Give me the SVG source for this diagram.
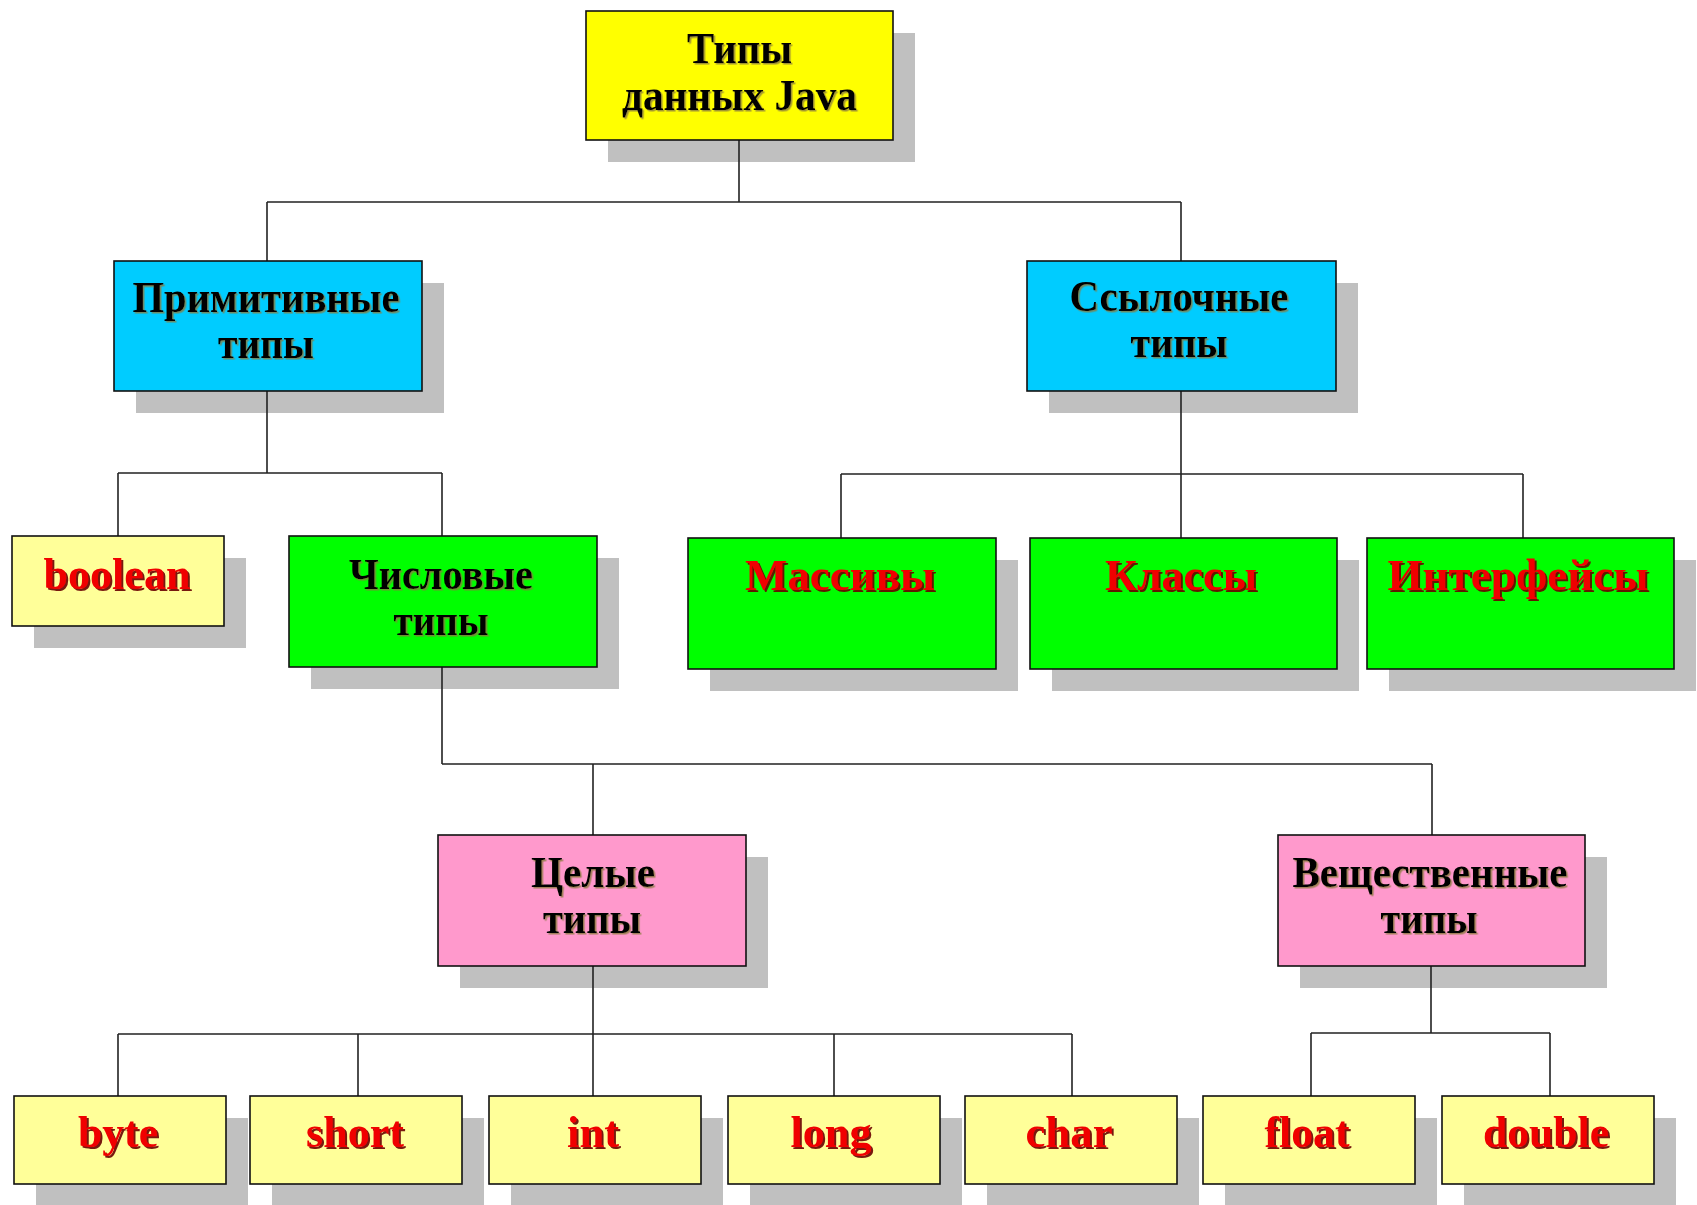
<svg xmlns="http://www.w3.org/2000/svg" width="1697" height="1205" viewBox="0 0 1697 1205">
<defs>
<style>
.box{stroke:#111;stroke-width:1.6}
.sh{fill:#c0c0c0}
.c{fill:none;stroke:#222;stroke-width:1.6}
.t{font-family:"Liberation Serif","Times New Roman",serif;font-weight:bold;font-size:44px;text-anchor:middle}
.k{fill:#000;filter:url(#ks)}
.r{fill:#f00000;filter:url(#rs)}
.y{fill:#ffff00}.b{fill:#00ccff}.g{fill:#00ff00}.p{fill:#ff99cc}.ly{fill:#ffff99}
</style>
<filter id="rs" x="-10%" y="-20%" width="130%" height="150%">
<feDropShadow dx="2" dy="2" stdDeviation="0.6" flood-color="#6a0000" flood-opacity="0.9"/>
</filter>
<filter id="ks" x="-10%" y="-20%" width="130%" height="150%">
<feDropShadow dx="1.5" dy="1.5" stdDeviation="0.6" flood-color="#8a7a40" flood-opacity="0.8"/>
</filter>
</defs>
<rect width="1697" height="1205" fill="#fff"/>
<g id="shadows">
<rect class="sh" x="608" y="33" width="307" height="129"/>
<rect class="sh" x="136" y="283" width="308" height="130"/>
<rect class="sh" x="1049" y="283" width="309" height="130"/>
<rect class="sh" x="34" y="558" width="212" height="90"/>
<rect class="sh" x="311" y="558" width="308" height="131"/>
<rect class="sh" x="710" y="560" width="308" height="131"/>
<rect class="sh" x="1052" y="560" width="307" height="131"/>
<rect class="sh" x="1389" y="560" width="307" height="131"/>
<rect class="sh" x="460" y="857" width="308" height="131"/>
<rect class="sh" x="1300" y="857" width="307" height="131"/>
<rect class="sh" x="36" y="1118" width="212" height="88"/>
<rect class="sh" x="272" y="1118" width="212" height="88"/>
<rect class="sh" x="511" y="1118" width="212" height="88"/>
<rect class="sh" x="750" y="1118" width="212" height="88"/>
<rect class="sh" x="987" y="1118" width="212" height="88"/>
<rect class="sh" x="1225" y="1118" width="212" height="88"/>
<rect class="sh" x="1464" y="1118" width="212" height="88"/>
</g>
<g id="connectors">
<path class="c" d="M739 140V202M267 202H1181M267 202V261M1181 202V261"/>
<path class="c" d="M267 391V473M118 473H442M118 473V536M442 473V536"/>
<path class="c" d="M1181 391V538M841 474H1523M841 474V538M1523 474V538"/>
<path class="c" d="M442 667V764M442 764H1432M593 764V835M1432 764V835"/>
<path class="c" d="M593 966V1096M118 1034H1072M118 1034V1096M358 1034V1096M834 1034V1096M1072 1034V1096"/>
<path class="c" d="M1431 966V1033M1311 1033H1550M1311 1033V1096M1550 1033V1096"/>
</g>
<g id="n-root"><rect class="box y" x="586" y="11" width="307" height="129"/>
<text class="t k" x="739.5" y="63" textLength="105" lengthAdjust="spacingAndGlyphs">Типы</text>
<text class="t k" x="739.5" y="110" textLength="235" lengthAdjust="spacingAndGlyphs">данных Java</text></g>
<g id="n-prim"><rect class="box b" x="114" y="261" width="308" height="130"/>
<text class="t k" x="266" y="312" textLength="267" lengthAdjust="spacingAndGlyphs">Примитивные</text>
<text class="t k" x="266" y="358" textLength="96" lengthAdjust="spacingAndGlyphs">типы</text></g>
<g id="n-ref"><rect class="box b" x="1027" y="261" width="309" height="130"/>
<text class="t k" x="1179" y="311" textLength="219" lengthAdjust="spacingAndGlyphs">Ссылочные</text>
<text class="t k" x="1179" y="357" textLength="97" lengthAdjust="spacingAndGlyphs">типы</text></g>
<g id="n-boolean"><rect class="box ly" x="12" y="536" width="212" height="90"/>
<text class="t r" x="117" y="589" textLength="147" lengthAdjust="spacingAndGlyphs">boolean</text></g>
<g id="n-num"><rect class="box g" x="289" y="536" width="308" height="131"/>
<text class="t k" x="441" y="589" textLength="184" lengthAdjust="spacingAndGlyphs">Числовые</text>
<text class="t k" x="441" y="635" textLength="95" lengthAdjust="spacingAndGlyphs">типы</text></g>
<g id="n-arr"><rect class="box g" x="688" y="538" width="308" height="131"/>
<text class="t r" x="840" y="590" textLength="190" lengthAdjust="spacingAndGlyphs">Массивы</text></g>
<g id="n-cls"><rect class="box g" x="1030" y="538" width="307" height="131"/>
<text class="t r" x="1181" y="590" textLength="152" lengthAdjust="spacingAndGlyphs">Классы</text></g>
<g id="n-int"><rect class="box g" x="1367" y="538" width="307" height="131"/>
<text class="t r" x="1518" y="590" textLength="261" lengthAdjust="spacingAndGlyphs">Интерфейсы</text></g>
<g id="n-whole"><rect class="box p" x="438" y="835" width="308" height="131"/>
<text class="t k" x="593" y="887" textLength="124" lengthAdjust="spacingAndGlyphs">Целые</text>
<text class="t k" x="592" y="933" textLength="98" lengthAdjust="spacingAndGlyphs">типы</text></g>
<g id="n-real"><rect class="box p" x="1278" y="835" width="307" height="131"/>
<text class="t k" x="1430" y="887" textLength="275" lengthAdjust="spacingAndGlyphs">Вещественные</text>
<text class="t k" x="1429" y="933" textLength="97" lengthAdjust="spacingAndGlyphs">типы</text></g>
<g id="n-byte"><rect class="box ly" x="14" y="1096" width="212" height="88"/>
<text class="t r" x="118" y="1147" textLength="80" lengthAdjust="spacingAndGlyphs">byte</text></g>
<g id="n-short"><rect class="box ly" x="250" y="1096" width="212" height="88"/>
<text class="t r" x="355" y="1147" textLength="98" lengthAdjust="spacingAndGlyphs">short</text></g>
<g id="n-intt"><rect class="box ly" x="489" y="1096" width="212" height="88"/>
<text class="t r" x="593" y="1147" textLength="52" lengthAdjust="spacingAndGlyphs">int</text></g>
<g id="n-long"><rect class="box ly" x="728" y="1096" width="212" height="88"/>
<text class="t r" x="831" y="1147" textLength="81" lengthAdjust="spacingAndGlyphs">long</text></g>
<g id="n-char"><rect class="box ly" x="965" y="1096" width="212" height="88"/>
<text class="t r" x="1069" y="1147" textLength="87" lengthAdjust="spacingAndGlyphs">char</text></g>
<g id="n-float"><rect class="box ly" x="1203" y="1096" width="212" height="88"/>
<text class="t r" x="1307" y="1147" textLength="85" lengthAdjust="spacingAndGlyphs">float</text></g>
<g id="n-double"><rect class="box ly" x="1442" y="1096" width="212" height="88"/>
<text class="t r" x="1546" y="1147" textLength="126" lengthAdjust="spacingAndGlyphs">double</text></g>
</svg>
